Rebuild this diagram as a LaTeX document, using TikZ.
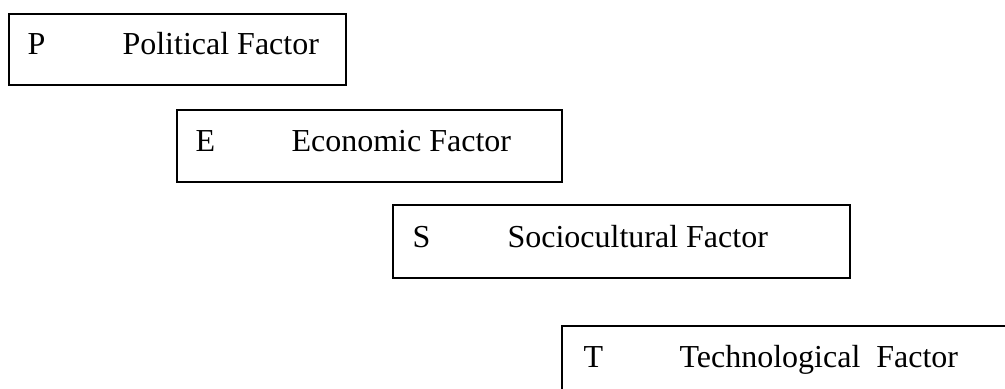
\documentclass[tikz,border=0pt]{standalone}
\usepackage{fontspec}
\setmainfont{Liberation Serif}
\begin{document}
\begin{tikzpicture}[x=0.375pt,y=-0.375pt,
  factorbox/.style={draw,line width=0.75pt,rectangle,anchor=north west,inner sep=0pt},
  letter/.style={anchor=base west,inner sep=0pt,font=\fontsize{12}{14}\selectfont},
  fname/.style={letter}]
\clip (0,0) rectangle (1005,389);
\node[factorbox,minimum width=126.4pt,minimum height=26.6pt] (boxP) at (8,13) {};
\node[factorbox,minimum width=144.4pt,minimum height=27pt] (boxE) at (176,109) {};
\node[factorbox,minimum width=171.4pt,minimum height=27.4pt] (boxS) at (392,204) {};
\node[factorbox,minimum width=220pt,minimum height=40pt] (boxT) at (561,325) {};
\node[letter] (P) at (27,55) {P};
\node[fname] (Pname) at (122,55) {Political Factor};
\node[letter] (E) at (195,151) {E};
\node[fname] (Ename) at (291,151) {Economic Factor};
\node[letter] (S) at (412,247) {S};
\node[fname] (Sname) at (507,247) {Sociocultural Factor};
\node[letter] (T) at (583,367) {T};
\node[fname] (Tname) at (679,367) {Technological\ \ Factor};
\end{tikzpicture}
\end{document}
